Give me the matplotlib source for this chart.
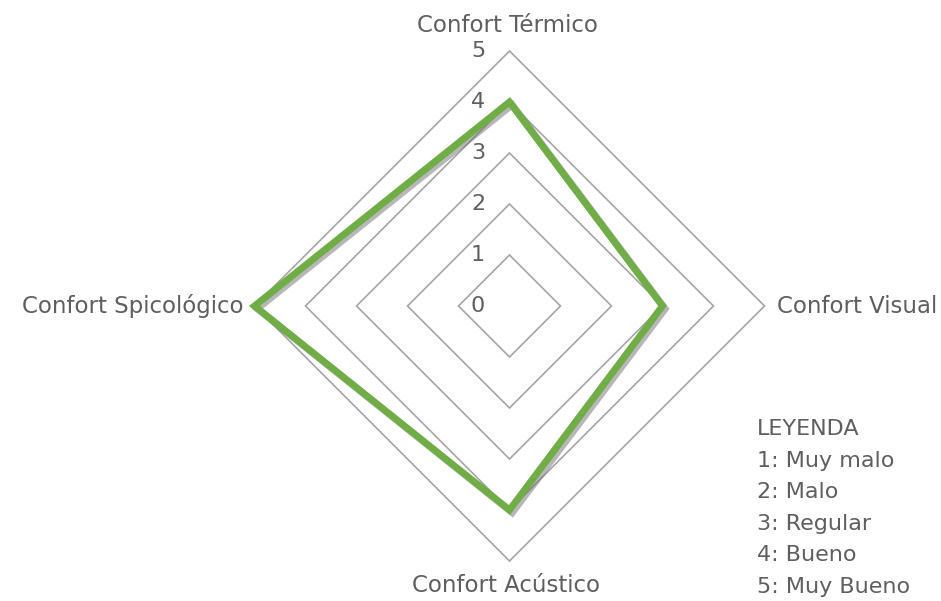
import numpy as np
import matplotlib
matplotlib.use("Agg")
import matplotlib.pyplot as plt
import matplotlib.patheffects as pe
from matplotlib.patches import Polygon

categories = ["Confort Térmico", "Confort Visual", "Confort Acústico", "Confort Spicológico"]
values = [4, 3, 4, 5]
ring_levels = [1, 2, 3, 4, 5]
tick_labels = ["0", "1", "2", "3", "4", "5"]
legend_lines = ["LEYENDA", "1: Muy malo", "2: Malo", "3: Regular", "4: Bueno", "5: Muy Bueno"]

plt.rcParams['font.family'] = ['DejaVu Sans']
TXT = '#5f5f5f'
FS_CAT = 16.5
FS_SMALL = 16

W, H = 941, 601
cx, cy, unit = 509.5, 306.0, 51.0
fig = plt.figure(figsize=(W / 100, H / 100), dpi=100)
ax = fig.add_axes([0, 0, 1, 1])
ax.set_xlim(-cx / unit, (W - cx) / unit)
ax.set_ylim(-(H - cy) / unit, cy / unit)
ax.axis('off')

angles = np.pi / 2 - np.arange(len(categories)) * 2 * np.pi / len(categories)
cosA, sinA = np.cos(angles), np.sin(angles)

for r in ring_levels:
    ring = Polygon(np.column_stack([r * cosA, r * sinA]), closed=True, fill=False,
                   edgecolor='#A6A6A6', lw=1.2, joinstyle='miter', zorder=1)
    ax.add_patch(ring)

v = np.array(values, dtype=float)
series = Polygon(np.column_stack([v * cosA, v * sinA]), closed=True, fill=False,
                 edgecolor='#70AD47', lw=5.0, joinstyle='miter', zorder=3)
series.set_path_effects([pe.Stroke(linewidth=5.0, foreground='#707070', alpha=0.5, offset=(2, -2)),
                         pe.Normal()])
ax.add_patch(series)

for i, t in enumerate(tick_labels):
    ax.text((478 - cx) / unit, i, t, ha='center', va='center', fontsize=FS_SMALL, color=TXT, zorder=4)

ax.text((507 - cx) / unit, (cy - 25) / unit, categories[0], ha='center', va='center', fontsize=FS_CAT, color=TXT)
ax.text((777 - cx) / unit, 0, categories[1], ha='left', va='center', fontsize=FS_CAT, color=TXT)
ax.text((506 - cx) / unit, (cy - 586) / unit, categories[2], ha='center', va='center', fontsize=FS_CAT, color=TXT)
ax.text((243 - cx) / unit, 0, categories[3], ha='right', va='center', fontsize=FS_CAT, color=TXT)

lx = (757 - cx) / unit
for j, s in enumerate(legend_lines):
    py = 429 + j * 31.6
    ax.text(lx, (cy - py) / unit, s, ha='left', va='center', fontsize=FS_SMALL, color=TXT)

fig.savefig('out.png', dpi=100)
